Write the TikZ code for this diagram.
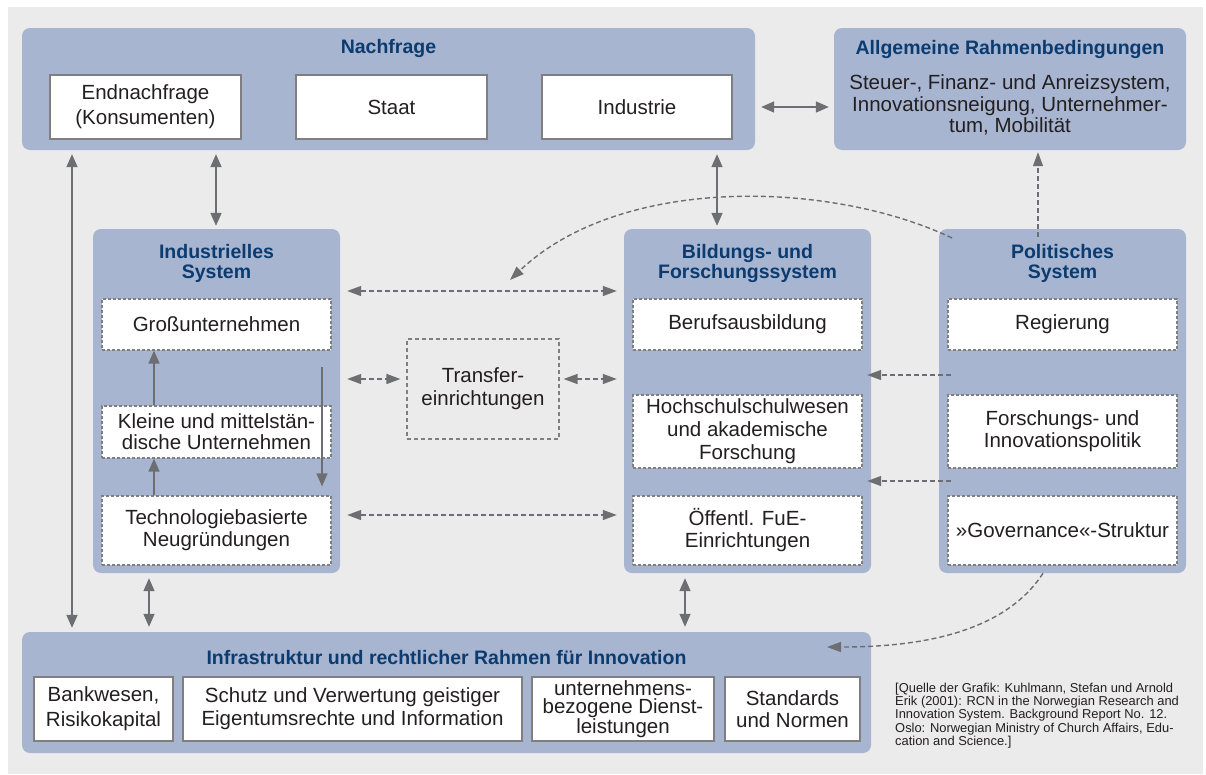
\documentclass[tikz,border=0pt]{standalone}
\usepackage{fontspec}
\setmainfont{Liberation Sans}
\usetikzlibrary{arrows.meta}
\definecolor{bggray}{HTML}{EBEBEB}
\definecolor{boxblue}{HTML}{A8B5D1}
\definecolor{titleblue}{HTML}{0B3B6F}
\definecolor{agray}{HTML}{6D6E71}
\definecolor{txt}{HTML}{231F20}
\definecolor{bordergray}{HTML}{7F7F7F}
\begin{document}
\begin{tikzpicture}[x=1pt,y=-1pt,
 bluebox/.style={fill=boxblue, rounded corners=8pt, inner sep=0pt},
 ttl/.style={text=titleblue, font=\bfseries\fontsize{19.5}{20}\selectfont, align=center, inner sep=0pt},
 body/.style={text=txt, font=\fontsize{20.5}{22}\selectfont, align=center, inner sep=0pt},
 sbox/.style={body, fill=white, draw=bordergray, line width=1.2pt},
 dbox/.style={body, fill=white, draw=bordergray, line width=1.2pt, dash pattern=on 3pt off 2pt},
 arr/.style={draw=agray, line width=1.6pt, -{Triangle[length=13pt,width=11pt]}},
 biarr/.style={draw=agray, line width=1.6pt, {Triangle[length=13pt,width=11pt]}-{Triangle[length=13pt,width=11pt]}},
 darr/.style={draw=agray, line width=1.4pt, dash pattern=on 5pt off 3pt, -{Triangle[length=14pt,width=10pt]}},
 dbiarr/.style={draw=agray, line width=1.4pt, dash pattern=on 5pt off 3pt, {Triangle[length=14pt,width=10pt]}-{Triangle[length=14pt,width=10pt]}}
]
\useasboundingbox (0,0) rectangle (1206,774);
\fill[bggray] (8,7) rectangle (1203,774);

% big blue boxes
\node[bluebox, minimum width=733pt, minimum height=122pt] (nach) at (388.5,89) {};
\node[bluebox, minimum width=352pt, minimum height=122pt] (allg) at (1010,89) {};
\node[bluebox, minimum width=247pt, minimum height=344pt] (ind) at (216.5,401) {};
\node[bluebox, minimum width=247pt, minimum height=344pt] (bild) at (747.5,401) {};
\node[bluebox, minimum width=247pt, minimum height=344pt] (pol) at (1062.5,401) {};
\node[bluebox, minimum width=849pt, minimum height=121pt] (infra) at (446.5,692.5) {};

% titles
\node[ttl] (tnach) at (388.5,48) {Nachfrage};
\node[ttl] (tallg) at (1010,49) {Allgemeine Rahmenbedingungen};
\node[body, font=\fontsize{20.5}{21.5}\selectfont] (ballg) at (1010,105) {Steuer-, Finanz- und Anreizsystem,\\Innovationsneigung, Unternehmer-\\tum, Mobilität};
\node[ttl] (tind) at (216.5,263) {Industrielles\\System};
\node[ttl] (tbild) at (747.5,263) {Bildungs- und\\Forschungssystem};
\node[ttl] (tpol) at (1062.5,263) {Politisches\\System};
\node[ttl] (tinfra) at (446.5,658) {Infrastruktur und rechtlicher Rahmen für Innovation};

% Nachfrage inner
\node[sbox, minimum width=191pt, minimum height=64pt, font=\fontsize{20.5}{25}\selectfont] (endn) at (145.5,107) {Endnachfrage\\(Konsumenten)};
\node[sbox, minimum width=191pt, minimum height=64pt] (staat) at (391.5,107) {Staat};
\node[sbox, minimum width=190pt, minimum height=64pt] (indu) at (637,107) {Industrie};

% Industrielles inner
\node[dbox, minimum width=229pt, minimum height=51pt] (gross) at (216.5,324.5) {Großunternehmen};
\node[dbox, minimum width=229pt, minimum height=52pt, font=\fontsize{20.5}{21}\selectfont] (kmu) at (216.5,432) {Kleine und mittelstän-\\dische Unternehmen};
\node[dbox, minimum width=229pt, minimum height=69pt] (tech) at (216.5,530.5) {Technologiebasierte\\Neugründungen};

% Bildungs inner
\node[dbox, minimum width=229pt, minimum height=51pt] (beruf) at (747.5,324.5) {Berufsausbildung};
\node[dbox, minimum width=229pt, minimum height=73pt, font=\fontsize{20.5}{23}\selectfont] (hoch) at (747.5,431.5) {Hochschulschulwesen\\und akademische\\Forschung};
\node[dbox, minimum width=229pt, minimum height=69pt] (oeff) at (747.5,530.5) {Öffentl. FuE-\\Einrichtungen};

% Politisches inner
\node[dbox, minimum width=229pt, minimum height=51pt] (reg) at (1062.5,324.5) {Regierung};
\node[dbox, minimum width=229pt, minimum height=73pt] (fip) at (1062.5,431.5) {Forschungs- und\\Innovationspolitik};
\node[dbox, minimum width=229pt, minimum height=69pt] (gov) at (1062.5,530.5) {»Governance«-Struktur};

% Transfer
\node[body, draw=bordergray, line width=1.2pt, dash pattern=on 4pt off 3pt, minimum width=152pt, minimum height=100pt, font=\fontsize{20.5}{23}\selectfont] (trans) at (483,389) {Transfer-\\einrichtungen};

% Infra inner
\node[sbox, minimum width=139pt, minimum height=64pt, font=\fontsize{20.5}{25}\selectfont] (bank) at (103.5,709) {Bankwesen,\\Risikokapital};
\node[sbox, minimum width=339pt, minimum height=64pt, font=\fontsize{20.5}{23}\selectfont] (schutz) at (352.5,709) {Schutz und Verwertung geistiger\\Eigentumsrechte und Information};
\node[sbox, minimum width=182pt, minimum height=64pt, font=\fontsize{20.5}{18.5}\selectfont] (untern) at (623,709) {unternehmens-\\bezogene Dienst-\\leistungen};
\node[sbox, minimum width=135pt, minimum height=64pt, font=\fontsize{20.5}{21.5}\selectfont] (stand) at (792.5,709) {Standards\\und Normen};

% source
\node[anchor=north west, align=left, inner sep=0pt, text=txt, font=\fontsize{12.9}{13.2}\selectfont] (src) at (895,683) {[Quelle der Grafik: Kuhlmann, Stefan und Arnold\\Erik (2001): RCN in the Norwegian Research and\\Innovation System. Background Report No. 12.\\Oslo: Norwegian Ministry of Church Affairs, Edu-\\cation and Science.]};

% solid arrows
\draw[biarr, shorten <=4pt, shorten >=4pt] (nach.south -| 72,0) -- (infra.north -| 72,0);
\draw[biarr, shorten <=4pt, shorten >=3pt] (nach.south -| 216,0) -- (ind.north -| 216,0);
\draw[biarr, shorten <=4pt, shorten >=3pt] (nach.south -| 717,0) -- (bild.north -| 717,0);
\draw[biarr, shorten <=5pt, shorten >=5pt] (ind.south -| 149,0) -- (infra.north -| 149,0);
\draw[biarr, shorten <=5pt, shorten >=5pt] (bild.south -| 685,0) -- (infra.north -| 685,0);
\draw[biarr, shorten <=6pt, shorten >=5pt] (nach.east |- 0,107) -- (allg.west |- 0,107);
\draw[arr] (kmu.north -| 154,0) -- (gross.south -| 154,0);
\draw[arr] (tech.north -| 154,0) -- (kmu.south -| 154,0);
\draw[arr, shorten <=16pt, shorten >=9pt] (gross.south -| 322,0) -- (tech.north -| 322,0);

% dashed arrows
\draw[dbiarr, shorten <=7pt, shorten >=7pt] (ind.east |- 0,291) -- (bild.west |- 0,291);
\draw[dbiarr, shorten <=7pt, shorten >=6pt] (ind.east |- 0,379) -- (trans.west |- 0,379);
\draw[dbiarr, shorten <=4pt, shorten >=7pt] (trans.east |- 0,379) -- (bild.west |- 0,379);
\draw[dbiarr, shorten <=7pt, shorten >=7pt] (ind.east |- 0,515) -- (bild.west |- 0,515);
\draw[darr, shorten <=-12pt, shorten >=-4pt] (pol.west |- 0,375) -- (bild.east |- 0,375);
\draw[darr, shorten <=-12pt, shorten >=-4pt] (pol.west |- 0,481) -- (bild.east |- 0,481);
\draw[darr, shorten <=-8pt, shorten >=2pt] (pol.north -| 1038,0) -- (allg.south -| 1038,0);
\coordinate (c1s) at (952,238);
\coordinate (c1e) at (510,280);
\draw[darr] (c1s) .. controls (830,180) and (620,175) .. (c1e);
\coordinate (c2e) at (827,647);
\draw[darr] (pol.south -| 1043,0) .. controls (1000,640) and (900,647) .. (c2e);
\end{tikzpicture}
\end{document}
